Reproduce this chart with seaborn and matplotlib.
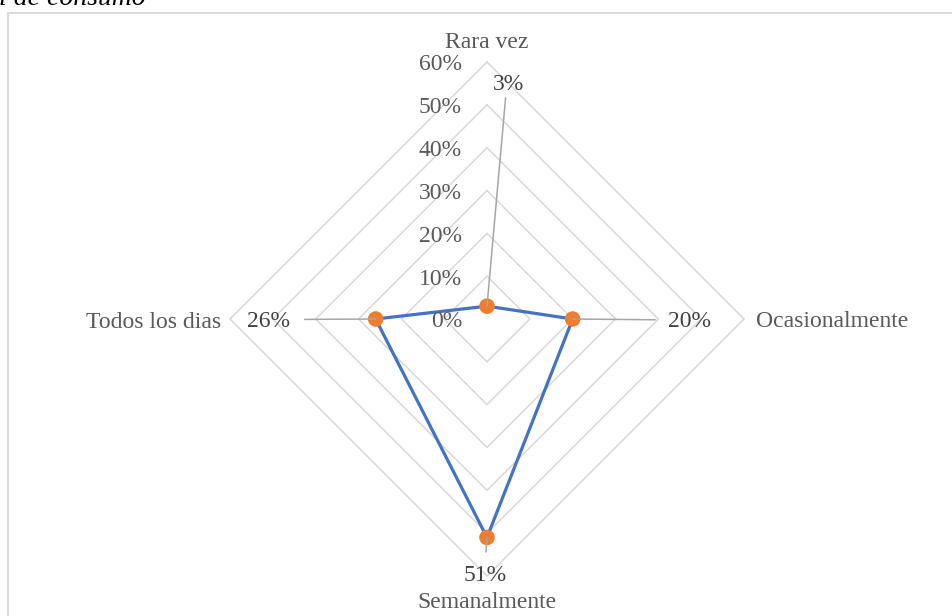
import numpy as np
import pandas as pd
import matplotlib
matplotlib.use("Agg")
import matplotlib.pyplot as plt
from matplotlib.lines import Line2D
import seaborn as sns

# Frequency of consumption — radar chart values
categories = ["Rara vez", "Ocasionalmente", "Semanalmente", "Todos los dias"]
values = [0.03, 0.20, 0.51, 0.26]
value_labels = ["3%", "20%", "51%", "26%"]
tick_values = [0.0, 0.1, 0.2, 0.3, 0.4, 0.5, 0.6]
tick_labels = ["0%", "10%", "20%", "30%", "40%", "50%", "60%"]
title_fragment = "l de consumo"

sns.set_theme(style="white")
plt.rcParams["font.family"] = ["Liberation Serif", "DejaVu Serif"]

W, H = 953, 616
FS = 17
DY = -3  # small downward nudge for text centred on a point
fig = plt.figure(figsize=(W / 100, H / 100), dpi=100)
ax = fig.add_axes([0, 0, 1, 1])

# one value unit (100%) spans this many pixels; centre of the radar in pixels
px_per_unit = 257 / 0.6
cx, cy = 487, 319
ax.set_xlim(-cx / px_per_unit, (W - cx) / px_per_unit)
ax.set_ylim(-(H - cy) / px_per_unit, cy / px_per_unit)
ax.axis("off")

n = len(categories)
angles = np.pi / 2 - 2 * np.pi * np.arange(n) / n
rmax = max(tick_values)


def polar_xy(r):
    r = np.asarray(r, dtype=float)
    return r * np.cos(angles), r * np.sin(angles)


# diamond gridlines
grid_color = "#d9d9d9"
for t in tick_values[1:]:
    gx, gy = polar_xy([t] * n)
    ax.plot(np.append(gx, gx[0]), np.append(gy, gy[0]), color=grid_color,
            lw=1.1, zorder=1, solid_joinstyle="miter")

# series polygon and markers
sx, sy = polar_xy(values)
poly = pd.DataFrame({"x": np.append(sx, sx[0]), "y": np.append(sy, sy[0])})
sns.lineplot(data=poly, x="x", y="y", sort=False, estimator=None,
             color="#4472C4", lw=2.3, ax=ax, zorder=3)
pts = pd.DataFrame({"x": sx, "y": sy, "cat": categories})
sns.scatterplot(data=pts, x="x", y="y", color="#ED7D31", s=125,
                edgecolor="none", ax=ax, zorder=4, legend=False)
ax.set_xlabel("")
ax.set_ylabel("")

# data labels with leader lines (offsets in pixels)
label_style = [
    dict(off=(22, 222), relpos=(0.4, 0.0), shrink=0),
    dict(off=(117, DY), relpos=(0.0, 0.6), shrink=7),
    dict(off=(-2, -35 + DY), relpos=(0.5, 1.0), shrink=7),
    dict(off=(-107, DY), relpos=(1.0, 0.62), shrink=8),
]
for x, y, lab, st in zip(sx, sy, value_labels, label_style):
    ax.annotate(lab, xy=(x, y), xytext=st["off"], textcoords="offset pixels",
                ha="center", va="center", fontsize=FS, color="#404040",
                zorder=5,
                arrowprops=dict(arrowstyle="-", color="#a6a6a6", lw=1.1,
                                shrinkA=st["shrink"], shrinkB=0,
                                relpos=st["relpos"]))

# radial axis tick labels along the upper spoke
for t, lab in zip(tick_values, tick_labels):
    ax.annotate(lab, xy=(0, t), xytext=(-25, DY), textcoords="offset pixels",
                ha="right", va="center", fontsize=FS, color="#595959")

# category labels outside the outer ring
vx, vy = polar_xy([rmax] * n)
cat_style = [
    dict(off=(0, 22 + DY), ha="center"),
    dict(off=(12, DY), ha="left"),
    dict(off=(0, -24 + DY), ha="center"),
    dict(off=(-9, DY), ha="right"),
]
for x, y, lab, st in zip(vx, vy, categories, cat_style):
    ax.annotate(lab, xy=(x, y), xytext=st["off"], textcoords="offset pixels",
                ha=st["ha"], va="center", fontsize=FS, color="#595959")

# chart area border (top and left edges)
bx, by = 8 / W, 1 - 13 / H
fig.add_artist(Line2D([bx, 1.0], [by, by], color=grid_color, lw=1.4,
                      transform=fig.transFigure))
fig.add_artist(Line2D([bx, bx], [by, 0.0], color=grid_color, lw=1.4,
                      transform=fig.transFigure))

# caption fragment above the chart
fig.text(-1 / W, 1 - 5 / H, title_fragment, fontsize=20, style="italic",
         color="black", ha="left", va="baseline")

fig.savefig("out.png", dpi=100)
